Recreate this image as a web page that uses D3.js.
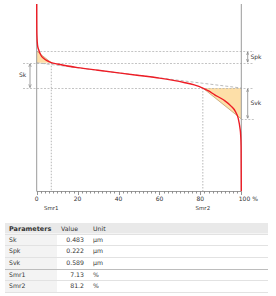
<!DOCTYPE html>
<html>
<head>
<meta charset="UTF-8">
<script src="https://d3js.org/d3.v7.min.js"></script>
<style>
  body { margin: 0; background: #fff; font-family: "DejaVu Sans", sans-serif; }
  svg text { fill: #333; }
</style>
</head>
<body>
<svg id="chart" width="276" height="296"></svg>
<script>
// parameter table
const paramNames = ["Sk", "Spk", "Svk", "Smr1", "Smr2"];
const paramValues = [0.483, 0.222, 0.589, 7.13, 81.2];
const paramUnits = ["µm", "µm", "µm", "%", "%"];
const paramText = ["0.483", "0.222", "0.589", "7.13", "81.2"];

// bearing area (Abbott-Firestone) curve
const curvePct = [0, 0.02, 0.1, 0.4, 1, 2, 3.5, 5, 7.13, 10, 20, 30, 40, 50, 60, 66.8, 72, 77, 81.2,
                  84, 87, 90, 92, 95, 97, 98.5, 99.3, 99.7, 99.9, 100];
const curveHeight = [1.603, 1.30, 1.01, 0.82, 0.725, 0.63, 0.563, 0.521, 0.483, 0.458, 0.39, 0.34, 0.29, 0.24, 0.19, 0.145, 0.105, 0.06, 0,
                  -0.055, -0.13, -0.195, -0.245, -0.345, -0.44, -0.58, -0.75, -0.9, -1.12, -1.97];
const xTickLabels = ["0", "20", "40", "60", "80", "100 %"];

const Sk = paramValues[0], Spk = paramValues[1], Svk = paramValues[2];
const Smr1 = paramValues[3], Smr2 = paramValues[4];
const coreLow = 0, coreHigh = Sk;

const svg = d3.select("#chart");
const x = d3.scaleLinear().domain([0, 100]).range([36.7, 241.3]);
const y = d3.scaleLinear().domain([-1.97, 1.603]).range([191.3, 4]);

const grey = "#9a9a9a";
const fillC = "#fddfa8";

svg.append("defs").append("marker")
  .attr("id", "arr").attr("viewBox", "0 0 6 6").attr("refX", 6).attr("refY", 3)
  .attr("markerWidth", 4).attr("markerHeight", 4).attr("orient", "auto-start-reverse")
  .append("path").attr("d", "M0,0.5L6,3L0,5.5").attr("fill", "none").attr("stroke", "#777").attr("stroke-width", 1);

// triangles
svg.append("path")
  .attr("d", d3.line()([[x(0), y(coreHigh + Spk)], [x(0), y(coreHigh)], [x(Smr1), y(coreHigh)]]) + "Z")
  .attr("fill", fillC);
svg.append("path")
  .attr("d", d3.line()([[x(Smr2), y(coreLow)], [x(100), y(coreLow)], [x(100), y(coreLow - Svk)]]) + "Z")
  .attr("fill", fillC);

// horizontal dashed reference lines
const hLines = [
  { h: coreHigh + Spk, x1: x(0), x2: 254 },
  { h: coreHigh, x1: 23, x2: 254 },
  { h: coreLow, x1: 23, x2: 254 },
  { h: coreLow - Svk, x1: x(100), x2: 254 }
];
svg.append("g").selectAll("line").data(hLines).join("line")
  .attr("x1", d => d.x1).attr("x2", d => d.x2)
  .attr("y1", d => Math.round(y(d.h)) + 0.5).attr("y2", d => Math.round(y(d.h)) + 0.5)
  .attr("stroke", "#b5b5b5").attr("stroke-width", 0.8).attr("stroke-dasharray", "2,1.5");

// vertical dotted Smr lines
svg.append("g").selectAll("line").data([{ p: Smr1, h: coreHigh }, { p: Smr2, h: coreLow }]).join("line")
  .attr("x1", d => x(d.p)).attr("x2", d => x(d.p))
  .attr("y1", d => y(d.h)).attr("y2", y(-1.97))
  .attr("stroke", "#a5a5a5").attr("stroke-width", 0.8).attr("stroke-dasharray", "1.5,1.5");

// equivalent straight line
svg.append("line")
  .attr("x1", x(0)).attr("y1", y(coreHigh)).attr("x2", x(100)).attr("y2", y(coreLow))
  .attr("stroke", "#aaa").attr("stroke-width", 0.8).attr("stroke-dasharray", "3,2");

// hypotenuses
svg.append("line")
  .attr("x1", x(0)).attr("y1", y(coreHigh + Spk)).attr("x2", x(Smr1)).attr("y2", y(coreHigh))
  .attr("stroke", "#c0a070").attr("stroke-width", 0.8);
svg.append("line")
  .attr("x1", x(Smr2)).attr("y1", y(coreLow)).attr("x2", x(100)).attr("y2", y(coreLow - Svk))
  .attr("stroke", "#c0a070").attr("stroke-width", 0.8);

// frame
svg.append("line").attr("x1", x(0)).attr("x2", x(0)).attr("y1", 4).attr("y2", y(-1.97))
  .attr("stroke", grey).attr("stroke-width", 1);
svg.append("line").attr("x1", x(100)).attr("x2", x(100)).attr("y1", 4).attr("y2", y(-1.97))
  .attr("stroke", grey).attr("stroke-width", 1);

// bottom axis
const axisG = svg.append("g").attr("transform", `translate(0,${Math.round(y(-1.97)) + 0.5})`);
axisG.append("line").attr("x1", x(0)).attr("x2", x(100)).attr("stroke", grey);
axisG.selectAll(".minor").data(d3.range(0, 101, 2)).join("line")
  .attr("x1", d => Math.round(x(d)) + 0.5).attr("x2", d => Math.round(x(d)) + 0.5)
  .attr("y1", 0).attr("y2", d => d % 20 === 0 ? 3.5 : 2)
  .attr("stroke", "#777").attr("stroke-width", 0.8);
axisG.selectAll("text").data(d3.range(0, 101, 20)).join("text")
  .attr("x", d => x(d) - (d === 100 ? 2.5 : 0)).attr("y", 9)
  .attr("text-anchor", d => d === 100 ? "start" : "middle")
  .attr("font-size", 6).text((d, i) => xTickLabels[i]);

svg.selectAll(".smr").data([Smr1, Smr2]).join("text")
  .attr("x", d => x(d)).attr("y", 210)
  .attr("text-anchor", "middle").attr("font-size", 5.5)
  .text((d, i) => i === 0 ? "Smr1" : "Smr2");

// curve
const pts = curvePct.map((p, i) => [p, curveHeight[i]]);
svg.append("path")
  .attr("d", d3.line().x(d => x(d[0])).y(d => y(d[1])).curve(d3.curveMonotoneX)(pts))
  .attr("fill", "none").attr("stroke", "#ee1c25").attr("stroke-width", 1.4);

// arrows + labels
const arrows = [
  { xp: 30, h1: coreHigh, h2: coreLow, label: "Sk", lx: 19, side: "left" },
  { xp: 247.7, h1: coreHigh + Spk, h2: coreHigh, label: "Spk", lx: 250.5 },
  { xp: 247.7, h1: coreLow, h2: coreLow - Svk, label: "Svk", lx: 250.5 }
];
svg.append("g").selectAll("line").data(arrows).join("line")
  .attr("x1", d => d.xp).attr("x2", d => d.xp)
  .attr("y1", d => y(d.h1) + 1).attr("y2", d => y(d.h2) - 0.5)
  .attr("stroke", "#888").attr("stroke-width", 0.8)
  .attr("marker-start", "url(#arr)").attr("marker-end", "url(#arr)");
svg.append("g").selectAll("text").data(arrows).join("text")
  .attr("x", d => d.lx).attr("y", d => (y(d.h1) + y(d.h2)) / 2 + 2)
  .attr("font-size", 6).text(d => d.label);

// table
const tx = 5, tw = 263, hdrTop = 223, hdrH = 10.5, rowH = 11.7, c1 = 57;
const tbl = svg.append("g");
tbl.append("rect").attr("x", tx).attr("y", hdrTop).attr("width", tw).attr("height", hdrH).attr("fill", "#e9e9e9");
const rowsTop = hdrTop + hdrH;
tbl.append("rect").attr("x", tx).attr("y", rowsTop).attr("width", c1 - tx).attr("height", rowH * paramNames.length).attr("fill", "#f3f3f3");
tbl.selectAll(".sep").data(d3.range(paramNames.length + 1)).join("line")
  .attr("x1", tx).attr("x2", tx + tw)
  .attr("y1", i => Math.round(rowsTop + i * rowH) + 0.5).attr("y2", i => Math.round(rowsTop + i * rowH) + 0.5)
  .attr("stroke", i => i === 3 ? "#bdbdbd" : "#e2e2e2").attr("stroke-width", 1);
tbl.append("text").attr("x", 9).attr("y", hdrTop + 7.5).attr("font-size", 6.5).attr("font-weight", "bold").text("Parameters");
tbl.append("text").attr("x", 61).attr("y", hdrTop + 7.5).attr("font-size", 6.2).text("Value");
tbl.append("text").attr("x", 93).attr("y", hdrTop + 7.5).attr("font-size", 6.2).text("Unit");
const rowsG = tbl.selectAll(".row").data(paramNames).join("g")
  .attr("transform", (d, i) => `translate(0,${rowsTop + i * rowH + 8})`);
rowsG.append("text").attr("x", 9).attr("font-size", 6.2).text(d => d);
rowsG.append("text").attr("x", 84).attr("text-anchor", "end").attr("font-size", 6.2).text((d, i) => paramText[i]);
rowsG.append("text").attr("x", 93).attr("font-size", 6.2).text((d, i) => paramUnits[i]);
</script>
</body>
</html>
